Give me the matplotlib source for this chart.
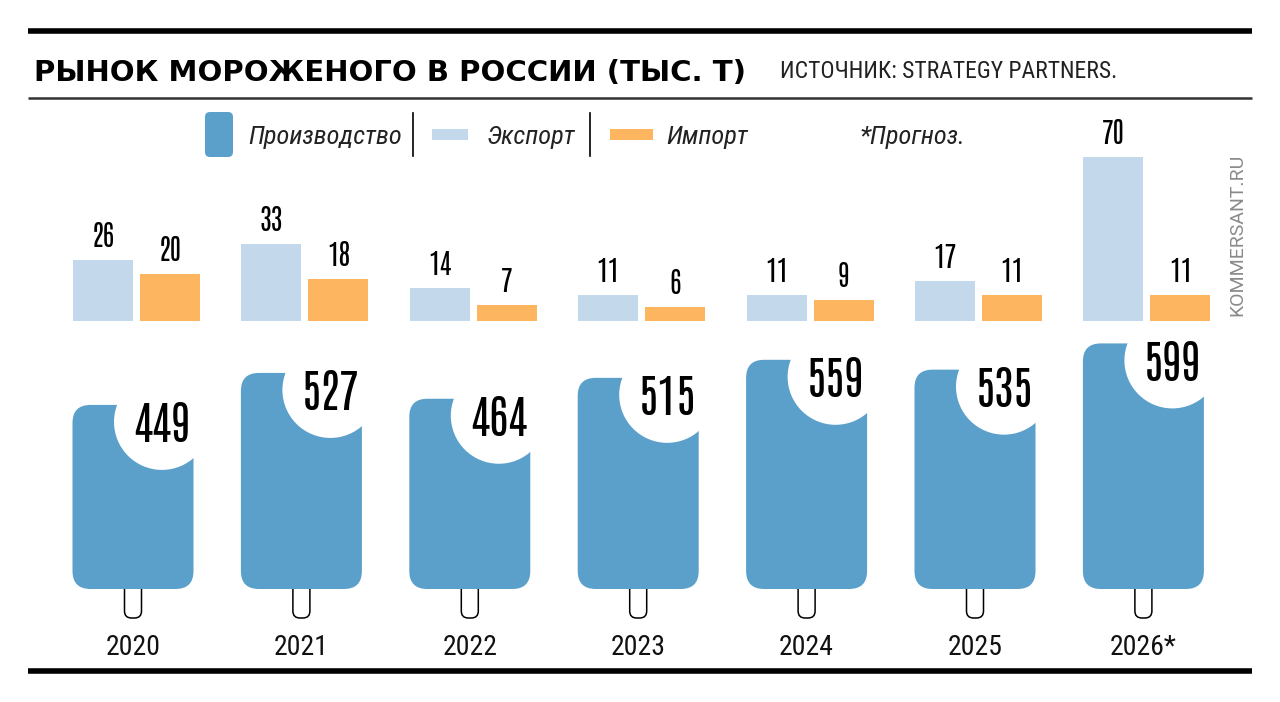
import matplotlib
matplotlib.use('Agg')
import matplotlib.pyplot as plt
from matplotlib.patches import FancyBboxPatch, Ellipse
from matplotlib.lines import Line2D

# ---------------- data ----------------
years = ['2020', '2021', '2022', '2023', '2024', '2025', '2026*']
production = [449, 527, 464, 515, 559, 535, 599]
export = [26, 33, 14, 11, 11, 17, 70]
imports = [20, 18, 7, 6, 9, 11, 11]

title = 'РЫНОК МОРОЖЕНОГО В РОССИИ (ТЫС. Т)'
source = 'ИСТОЧНИК: STRATEGY PARTNERS.'
legend_labels = ['Производство', 'Экспорт', 'Импорт']
note = '*Прогноз.'
watermark = 'KOMMERSANT.RU'

# ---------------- styles ----------------
C_PROD = '#5aa0cb'
C_EXP = '#c3d8ea'
C_IMP = '#fdb55f'
NUMF = ['Antonio', 'Oswald', 'Fira Sans Extra Condensed', 'DejaVu Sans']
TXTF = ['Roboto Condensed', 'PT Sans Narrow', 'DejaVu Sans']
W, H = 1280, 702

fig = plt.figure(figsize=(W / 100, H / 100), dpi=100)

# overlay axes in pixel coordinates for decorations
deco = fig.add_axes([0, 0, 1, 1], zorder=0)
deco.set_xlim(0, W)
deco.set_ylim(H, 0)
deco.axis('off')

deco.add_line(Line2D([28, 1252], [31, 31], color='black', lw=4.0, solid_capstyle='butt'))
deco.add_line(Line2D([28, 1252], [98, 98], color='#333333', lw=1.8, solid_capstyle='butt'))
deco.add_line(Line2D([28, 1252], [671, 671], color='black', lw=4.0, solid_capstyle='butt'))

deco.text(34, 81, title, fontsize=21, fontweight='heavy', family='DejaVu Sans',
          ha='left', va='baseline', color='black')
deco.text(780, 78, source, fontsize=17, family=TXTF, ha='left', va='baseline',
          color='#222222')

# legend
deco.add_patch(FancyBboxPatch((205, 112), 28, 45, boxstyle='round,pad=0,rounding_size=5',
                              fc=C_PROD, ec='none'))
deco.text(248, 144, legend_labels[0], fontsize=19, style='italic', family=TXTF,
          ha='left', va='baseline', color='#222222')
deco.add_line(Line2D([413, 413], [113, 156], color='black', lw=1.2))
deco.add_patch(FancyBboxPatch((432, 129), 36, 11, boxstyle='square,pad=0', fc=C_EXP, ec='none'))
deco.text(486, 144, legend_labels[1], fontsize=19, style='italic', family=TXTF,
          ha='left', va='baseline', color='#222222')
deco.add_line(Line2D([590, 590], [113, 156], color='black', lw=1.2))
deco.add_patch(FancyBboxPatch((610, 129), 43, 11, boxstyle='square,pad=0', fc=C_IMP, ec='none'))
deco.text(666, 144, legend_labels[2], fontsize=19, style='italic', family=TXTF,
          ha='left', va='baseline', color='#222222')
deco.text(860, 144, note, fontsize=19, style='italic', family=TXTF,
          ha='left', va='baseline', color='#222222')

deco.text(1237, 235, watermark, fontsize=14, family=['Roboto', 'DejaVu Sans'], rotation=90,
          ha='center', va='center', color='#8a8a8a')

# ---------------- geometry of data axes ----------------
PPU = 168.4          # px per category unit
X0 = 133.0           # pixel x of category 0
left_px = X0 - 0.5 * PPU
width_px = 7 * PPU

# lower (production) axes
SY = 0.41            # px per thousand tonnes
Y0_LOW = 589.0
low_ylim = (-80, 620)
low_top = Y0_LOW - low_ylim[1] * SY
low_bot = Y0_LOW - low_ylim[0] * SY
axp = fig.add_axes([left_px / W, 1 - low_bot / H, width_px / W, (low_bot - low_top) / H], zorder=1)
axp.set_xlim(-0.5, 6.5)
axp.set_ylim(*low_ylim)
axp.axis('off')

# upper (export/import) axes
SU = 2.34
Y0_UP = 321.0
up_ylim = (0, 75)
up_top = Y0_UP - up_ylim[1] * SU
axu = fig.add_axes([left_px / W, 1 - Y0_UP / H, width_px / W, (Y0_UP - up_top) / H], zorder=2)
axu.set_xlim(-0.5, 6.5)
axu.set_ylim(*up_ylim)
axu.axis('off')
axu.patch.set_visible(False)

# ---------------- popsicles ----------------
bw = 121 / PPU
asp = PPU / SY
r_dx = 29 / PPU
r_dy = 17 / SY
R = 48
for i, v in enumerate(production):
    # stick
    axp.add_patch(FancyBboxPatch((i - 8.5 / PPU, -29 / SY), 17 / PPU, 45 / SY,
                                 boxstyle=f'round,pad=0,rounding_size={7 / PPU}',
                                 mutation_aspect=asp, fc='white', ec='black', lw=1.1,
                                 zorder=1, clip_on=False))
    # body
    axp.add_patch(FancyBboxPatch((i - bw / 2, 0), bw, v,
                                 boxstyle=f'round,pad=0,rounding_size={18 / PPU}',
                                 mutation_aspect=asp, fc=C_PROD, ec='none', zorder=2,
                                 clip_on=False))
    # bite
    cx, cy = i + r_dx, v - r_dy
    axp.add_patch(Ellipse((cx, cy), 2 * R / PPU, 2 * R / SY, fc='white', ec='none',
                          zorder=3, clip_on=False))
    axp.text(cx, cy - 20.5 / SY, str(v), fontsize=33, fontweight='bold', family=NUMF,
             ha='center', va='baseline', color='black', zorder=4)
    axp.text(i, -66 / SY, years[i], fontsize=20, family=TXTF, ha='center',
             va='baseline', color='#111111')

# ---------------- export / import bars ----------------
xs = list(range(len(years)))
bwu = 60 / PPU
off_e = -30 / PPU
off_i = 37 / PPU
axu.bar([x + off_e for x in xs], export, width=bwu, color=C_EXP, zorder=2)
axu.bar([x + off_i for x in xs], imports, width=bwu, color=C_IMP, zorder=2)
for x, e, m in zip(xs, export, imports):
    axu.text(x + off_e, e + 13 / SU, str(e), fontsize=20, fontweight='bold', family=NUMF,
             ha='center', va='baseline', color='black')
    axu.text(x + off_i, m + 13 / SU, str(m), fontsize=20, fontweight='bold', family=NUMF,
             ha='center', va='baseline', color='black')

fig.savefig('out.png', dpi=100, facecolor='white')
